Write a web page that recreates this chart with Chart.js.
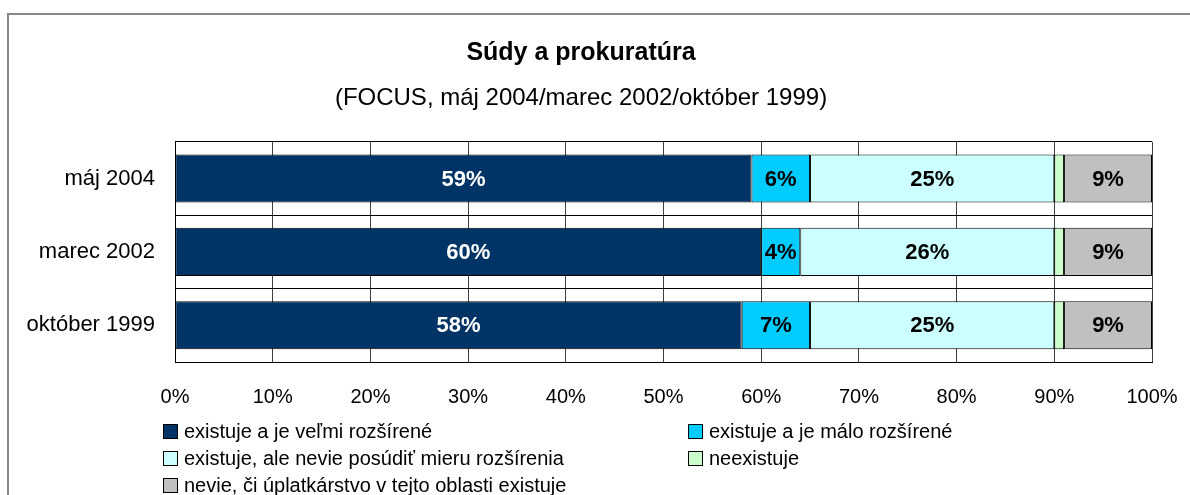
<!DOCTYPE html>
<html>
<head>
<meta charset="utf-8">
<script src="https://cdn.jsdelivr.net/npm/chart.js@4.4.1/dist/chart.umd.min.js"></script>
<style>
    html, body { margin: 0; padding: 0; background: #fff; }
    #wrap { width: 1190px; height: 495px; position: relative; }
</style>
</head>
<body>
<div id="wrap"><canvas id="barChart"></canvas></div>
<script>
// data
var periods = ['máj 2004', 'marec 2002', 'október 1999'];
var seriesNames = [
    'existuje a je veľmi rozšírené',
    'existuje a je málo rozšírené',
    'existuje, ale nevie posúdiť mieru rozšírenia',
    'neexistuje',
    'nevie, či úplatkárstvo v tejto oblasti existuje'
];
var velmiRozsirene = [59, 60, 58];
var maloRozsirene = [6, 4, 7];
var neviePosudit = [25, 26, 25];
var neexistuje = [1, 1, 1];
var nevie = [9, 9, 9];
var seriesColors = ['#003366', '#00CCFF', '#CCFFFF', '#CCFFCC', '#C0C0C0'];
var labelColors = ['#ffffff', '#000000', '#000000', '#000000', '#000000'];

var FONT = "'Liberation Sans Narrow', 'Arial Narrow', 'Liberation Sans', Arial, sans-serif";

// gray frame around the whole picture
var framePlugin = {
    id: 'frame',
    beforeDraw: function (chart) {
        var ctx = chart.ctx;
        ctx.save();
        ctx.fillStyle = '#ffffff';
        ctx.fillRect(0, 0, chart.width, chart.height);
        ctx.strokeStyle = '#888888';
        ctx.lineWidth = 2;
        ctx.strokeRect(8, 14, chart.width + 20, chart.height + 20);
        ctx.restore();
    }
};

// percent labels inside the segments
var valueLabels = {
    id: 'valueLabels',
    afterDatasetsDraw: function (chart) {
        var ctx = chart.ctx;
        ctx.save();
        ctx.font = 'bold 22px ' + FONT;
        ctx.textAlign = 'center';
        ctx.textBaseline = 'middle';
        chart.data.datasets.forEach(function (ds, i) {
            var meta = chart.getDatasetMeta(i);
            meta.data.forEach(function (bar, j) {
                var v = ds.data[j];
                if (v < 2) return;
                ctx.fillStyle = labelColors[i];
                ctx.fillText(v + '%', (bar.x + bar.base) / 2, bar.y + 1);
            });
        });
        ctx.restore();
    }
};

// legend in two columns under the axis
var legendBoxes = {
    id: 'legendBoxes',
    afterDraw: function (chart) {
        var ctx = chart.ctx;
        var cols = [163, 688];
        var rows = [431, 458, 485];
        ctx.save();
        ctx.font = '20px ' + FONT;
        ctx.textAlign = 'left';
        ctx.textBaseline = 'middle';
        chart.data.datasets.forEach(function (ds, i) {
            var x = cols[i % 2];
            var y = rows[Math.floor(i / 2)];
            ctx.fillStyle = ds.backgroundColor;
            ctx.fillRect(x, y - 7, 14, 14);
            ctx.strokeStyle = '#000';
            ctx.lineWidth = 1;
            ctx.strokeRect(x + 0.5, y - 6.5, 14, 14);
            ctx.fillStyle = '#000';
            ctx.fillText(ds.label, x + 21, y + 1);
        });
        ctx.restore();
    }
};

var allValues = [velmiRozsirene, maloRozsirene, neviePosudit, neexistuje, nevie];
var datasets = allValues.map(function (vals, i) {
    return {
        label: seriesNames[i],
        data: vals,
        backgroundColor: seriesColors[i],
        borderColor: '#000000',
        borderWidth: 1,
        borderSkipped: false,
        barPercentage: 0.655,
        categoryPercentage: 1.0
    };
});

var ctx = document.getElementById('barChart').getContext('2d');
var barChart = new Chart(ctx, {
    type: 'bar',
    data: {
        labels: periods,
        datasets: datasets
    },
    plugins: [framePlugin, valueLabels, legendBoxes],
    options: {
        indexAxis: 'y',
        responsive: true,
        maintainAspectRatio: false,
        animation: false,
        layout: { padding: { left: 10, right: 38, top: 0, bottom: 0 } },
        plugins: {
            legend: { display: false },
            tooltip: { enabled: false },
            title: {
                display: true,
                text: 'Súdy a prokuratúra',
                color: '#000',
                font: { family: FONT, size: 25, weight: 'bold', lineHeight: 1.2 },
                padding: { top: 38, bottom: 0 }
            },
            subtitle: {
                display: true,
                text: '(FOCUS, máj 2004/marec 2002/október 1999)',
                color: '#000',
                font: { family: FONT, size: 24, weight: 'normal', lineHeight: 1.2 },
                padding: { top: 16, bottom: 29 }
            }
        },
        scales: {
            x: {
                stacked: true,
                min: 0,
                max: 100,
                ticks: {
                    stepSize: 10,
                    padding: 23,
                    color: '#000',
                    font: { family: FONT, size: 20 },
                    callback: function (v) { return v + '%'; }
                },
                grid: { color: '#404040', lineWidth: 1, drawTicks: false },
                border: { color: '#000', width: 1 },
                afterFit: function (scale) {
                    scale.height = 133;
                    scale.paddingLeft = 0;
                    scale.paddingRight = 0;
                }
            },
            y: {
                stacked: true,
                ticks: {
                    padding: 20,
                    color: '#000',
                    font: { family: FONT, size: 22 }
                },
                grid: { color: '#000', lineWidth: 1, drawTicks: false, offset: true },
                border: { color: '#000', width: 1 },
                afterFit: function (scale) { scale.width = 165; }
            }
        }
    }
});
</script>
</body>
</html>
